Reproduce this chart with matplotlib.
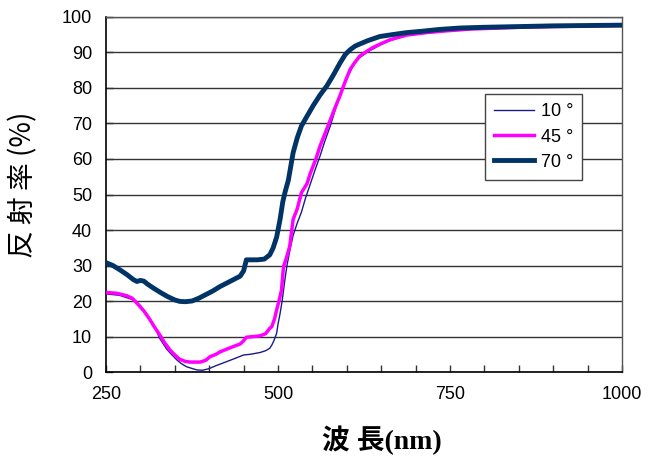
import matplotlib
matplotlib.use("Agg")
import matplotlib.pyplot as plt

# ---- data ----
x70 = [250, 260, 270, 280, 290, 295, 300, 305, 310, 320, 330, 340, 350, 357, 365, 375, 385, 395, 405, 415,
       425, 435, 445, 450, 454, 460, 470, 480, 488, 493, 498, 503, 507, 510, 515, 522, 528, 534, 542, 551,
       561, 571, 580, 590, 598, 605, 612, 619, 630, 648, 665, 687, 710, 735, 765, 800, 850, 900, 950, 1000]
y70 = [30.8, 30.0, 28.8, 27.5, 26.0, 25.5, 25.8, 25.6, 24.8, 23.5, 22.3, 21.2, 20.3, 19.9, 19.8, 20.0, 20.8, 21.8, 22.8, 24.0,
       25.0, 26.0, 27.0, 28.5, 31.6, 31.6, 31.6, 31.8, 33.0, 35.0, 38.0, 43.0, 48.0, 50.5, 54.0, 61.8, 66.0, 69.3, 72.0, 75.0,
       78.0, 80.6, 83.5, 87.0, 89.5, 90.8, 91.8, 92.4, 93.3, 94.5, 95.0, 95.6, 96.0, 96.5, 96.9, 97.1, 97.3, 97.5, 97.6, 97.7]

x45 = [250, 265, 280, 288, 295, 305, 314, 320, 328, 335, 343, 350, 357, 365, 372, 380, 387, 395, 401, 410,
       416, 430, 445, 450, 454, 465, 474, 482, 488, 491, 495, 498, 502, 505, 508, 512, 517, 522, 528, 534,
       542, 547, 555, 561, 570, 576, 583, 590, 597, 605, 612, 619, 628, 638, 650, 663, 687, 716, 745, 780,
       850, 900, 1000]
y45 = [22.4, 22.2, 21.5, 20.8, 19.4, 17.2, 14.7, 12.8, 10.5, 8.3, 6.2, 4.8, 3.6, 3.0, 2.8, 2.8, 2.8, 3.3, 4.3, 5.0,
       5.7, 6.8, 7.9, 8.8, 9.8, 10.0, 10.2, 10.8, 12.3, 12.8, 15.0, 17.5, 20.5, 23.0, 29.7, 32.0, 35.4, 43.0, 46.0, 50.5,
       53.0, 56.0, 60.0, 63.6, 68.0, 71.0, 74.5, 77.8, 81.5, 85.3, 87.3, 89.0, 90.2, 91.4, 92.5, 93.6, 94.9, 95.6, 96.1, 96.6,
       97.1, 97.3, 97.6]

x10 = [250, 270, 290, 300, 310, 320, 328, 338, 345, 353, 360, 367, 375, 382, 390, 399, 410, 425, 437, 450,
       460, 474, 482, 488, 491, 494, 498, 500, 503, 506, 510, 513, 518, 522, 528, 534, 540, 547, 554, 561,
       568, 576, 585, 595, 602, 609, 616, 624, 631, 638, 650, 663, 687, 716, 745, 780, 850, 900, 1000]
y10 = [22.0, 21.6, 20.3, 18.7, 16.2, 13.0, 9.5, 6.5, 5.0, 3.4, 2.3, 1.5, 1.0, 0.6, 0.5, 0.9, 1.8, 2.9, 3.8, 4.8,
       5.0, 5.5, 6.0, 6.7, 7.6, 8.8, 10.9, 13.5, 16.5, 20.0, 26.0, 30.0, 35.0, 38.5, 42.0, 45.0, 49.0, 53.0, 57.0, 60.8,
       65.0, 69.3, 75.0, 80.6, 83.5, 86.2, 88.2, 89.3, 90.3, 91.0, 92.3, 93.4, 94.8, 95.5, 96.0, 96.5, 97.0, 97.3, 97.6]

series_labels = ["10 °", "45 °", "70 °"]
x_major = [250, 500, 750, 1000]
y_ticks = list(range(0, 101, 10))

# ---- plot ----
fig = plt.figure(figsize=(6.48, 4.59), dpi=100)
ax = fig.add_axes([0.1636, 0.1895, 0.7963, 0.7735])

for y in y_ticks:
    ax.axhline(y, color="#333333", lw=1.0, zorder=1)

ax.plot(x10, y10, color="#1a1a8c", lw=1.0, label=series_labels[0], zorder=3)
ax.plot(x45, y45, color="#ff00ff", lw=2.5, label=series_labels[1], zorder=3)
ax.plot(x70, y70, color="#003366", lw=3.5, label=series_labels[2], zorder=3)

ax.set_xlim(250, 1000)
ax.set_ylim(0, 100)
ax.set_xticks(list(range(250, 1001, 50)))
ax.set_xticklabels([str(v) if v in x_major else "" for v in range(250, 1001, 50)])
ax.set_yticks(y_ticks)
ax.set_yticklabels([str(v) for v in y_ticks])
ax.tick_params(direction="in", length=5, width=1, color="#333333",
               labelsize=13, labelcolor="black")
ax.tick_params(axis="x", pad=10)
ax.tick_params(axis="y", pad=10)
for lab in ax.get_xticklabels() + ax.get_yticklabels():
    lab.set_family(["Liberation Sans", "DejaVu Sans"])

for s in ["left", "bottom"]:
    ax.spines[s].set_color("black")
    ax.spines[s].set_linewidth(1.2)
for s in ["top", "right"]:
    ax.spines[s].set_color("#555555")
    ax.spines[s].set_linewidth(1.0)

ax.set_ylabel("反 射 率 (%)", fontsize=20, family=["Noto Sans CJK JP", "DejaVu Sans"])
ax.yaxis.set_label_coords(-0.132, 0.527)
ax.set_xlabel("波 長(nm)", fontsize=20, fontweight="bold",
              family=["Liberation Serif", "Noto Sans CJK JP"])
ax.xaxis.set_label_coords(0.535, -0.152)

leg = ax.legend(loc="upper left", bbox_to_anchor=(0.734, 0.782), frameon=True, fancybox=False,
                edgecolor="#444444", framealpha=1, handlelength=2.2, borderaxespad=0,
                borderpad=0.5, labelspacing=0.45, handletextpad=0.4,
                prop={"family": ["Liberation Sans", "DejaVu Sans"], "size": 13})
leg.get_frame().set_linewidth(1.0)

fig.savefig("out.png", dpi=100)
